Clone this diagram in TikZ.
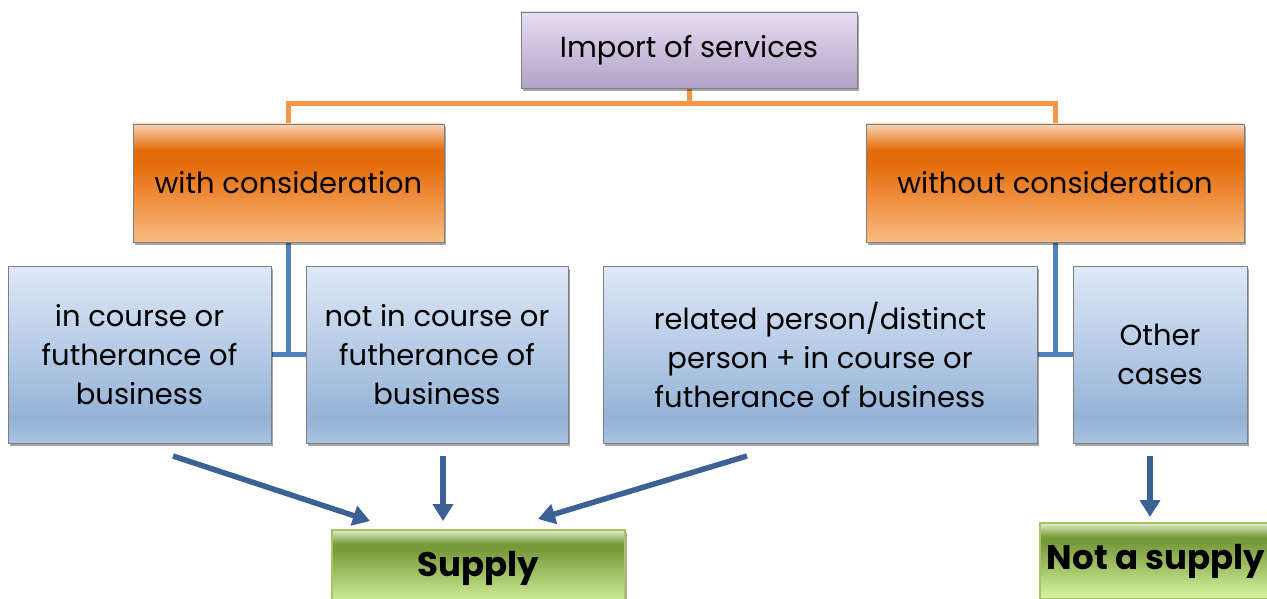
\documentclass[tikz,border=0pt]{standalone}
\usepackage{fontspec}
\setmainfont{Poppins}
\usetikzlibrary{shadows,arrows.meta,calc}
\definecolor{orTop}{HTML}{FAD3B5}
\definecolor{orDark}{HTML}{E46C0A}
\definecolor{orBot}{HTML}{FBBB82}
\definecolor{bluTop}{HTML}{DFE8F8}
\definecolor{bluBot}{HTML}{95B3D7}
\definecolor{bluBot2}{HTML}{A9C2E2}
\definecolor{puTop}{HTML}{E6DDF2}
\definecolor{puBot}{HTML}{B3A2C7}
\definecolor{grTop}{HTML}{E2EECB}
\definecolor{grDark}{HTML}{789A3B}
\definecolor{grBot}{HTML}{D8F6A0}
\definecolor{grBorder}{HTML}{A6C466}
\definecolor{boxBorder}{HTML}{7F7F7F}
\definecolor{orLine}{HTML}{F79646}
\definecolor{bluLine}{HTML}{4F81BD}
\definecolor{arrCol}{HTML}{3C6295}
\pgfdeclareverticalshading{shOrange}{100bp}{color(0bp)=(orBot); color(25bp)=(orBot); color(58bp)=(orDark); color(64bp)=(orDark); color(75bp)=(orTop); color(100bp)=(orTop)}
\pgfdeclareverticalshading{shBlue}{100bp}{color(0bp)=(bluBot2); color(25bp)=(bluBot2); color(32bp)=(bluBot); color(75bp)=(bluTop); color(100bp)=(bluTop)}
\pgfdeclareverticalshading{shPurple}{100bp}{color(0bp)=(puBot); color(25bp)=(puBot); color(75bp)=(puTop); color(100bp)=(puTop)}
\pgfdeclareverticalshading{shGreen}{100bp}{color(0bp)=(grBot); color(25bp)=(grBot); color(62bp)=(grDark); color(66bp)=(grDark); color(75bp)=(grTop); color(100bp)=(grTop)}
\tikzset{
  box/.style={draw=boxBorder, line width=0.8pt, inner sep=0pt, align=center,
    drop shadow={shadow xshift=2pt, shadow yshift=-3pt, opacity=0.35, fill=black},
    font=\fontsize{29}{39}\selectfont},
  purplebox/.style={box, shading=shPurple},
  orangebox/.style={box, shading=shOrange},
  bluebox/.style={box, shading=shBlue},
  greenbox/.style={box, shading=shGreen, draw=grBorder, line width=1.2pt,
    font=\fontsize{34}{40}\selectfont\bfseries},
  orconn/.style={draw=orLine, line width=5pt},
  blconn/.style={draw=bluLine, line width=5pt},
  bigarrow/.style={draw=arrCol, line width=5.5pt, -{Triangle[length=17pt,width=20pt]}}
}
\begin{document}
\begin{tikzpicture}[x=1pt,y=-1pt]
\useasboundingbox (0,0) rectangle (1267,599);
% connector end points
\coordinate (impS) at (689,88);
\coordinate (withN) at (288.5,124);
\coordinate (withoutN) at (1055,124);
\coordinate (withS) at (288.5,242);
\coordinate (withoutS) at (1055,242);
\coordinate (jL) at (288.5,354.5);
\coordinate (jR) at (1055,354.5);
% connectors (behind the boxes)
\draw[orconn] (impS) -- ++(0,16) -| (withN);
\draw[orconn] (impS) -- ++(0,16) -| (withoutN);
\draw[blconn] (withS) -- (jL) -- (271,354.5);
\draw[blconn] (jL) -- (306,354.5);
\draw[blconn] (withoutS) -- (jR) -- (1037,354.5);
\draw[blconn] (jR) -- (1073,354.5);
% nodes
\node[purplebox, minimum width=336pt, minimum height=76pt] (imp) at (689,50) {Import of services};
\node[orangebox, minimum width=311pt, minimum height=118pt] (with) at (288.5,183) {with consideration};
\node[orangebox, minimum width=378pt, minimum height=118pt] (without) at (1055,183) {without consideration};
\node[bluebox, minimum width=263pt, minimum height=177pt] (b1) at (139.5,354.5) {in course or\\futherance of\\business};
\node[bluebox, minimum width=262pt, minimum height=177pt] (b2) at (437,354.5) {not in course or\\futherance of\\business};
\node[bluebox, minimum width=434pt, minimum height=177pt] (b3) at (820,354.5) {related person/distinct\\person + in course or\\futherance of business};
\node[bluebox, minimum width=174pt, minimum height=177pt] (b4) at (1160,354.5) {Other\\cases};
\node[greenbox, minimum width=293pt, minimum height=76pt] (supply) at (478.5,568) {Supply};
\node[greenbox, minimum width=232pt, minimum height=76pt] (notsupply) at (1156,561) {Not a supply};
% arrows
\coordinate (a1s) at (173,456);
\coordinate (a1e) at (370,521);
\coordinate (a2s) at (443,456);
\coordinate (a2e) at (443,521);
\coordinate (a3s) at (747,456);
\coordinate (a3e) at (538,519);
\coordinate (a4s) at (1150,456);
\coordinate (a4e) at (1150,517);
\draw[bigarrow] (a1s) -- (a1e);
\draw[bigarrow] (a2s) -- (a2e);
\draw[bigarrow] (a3s) -- (a3e);
\draw[bigarrow] (a4s) -- (a4e);
\end{tikzpicture}
\end{document}
